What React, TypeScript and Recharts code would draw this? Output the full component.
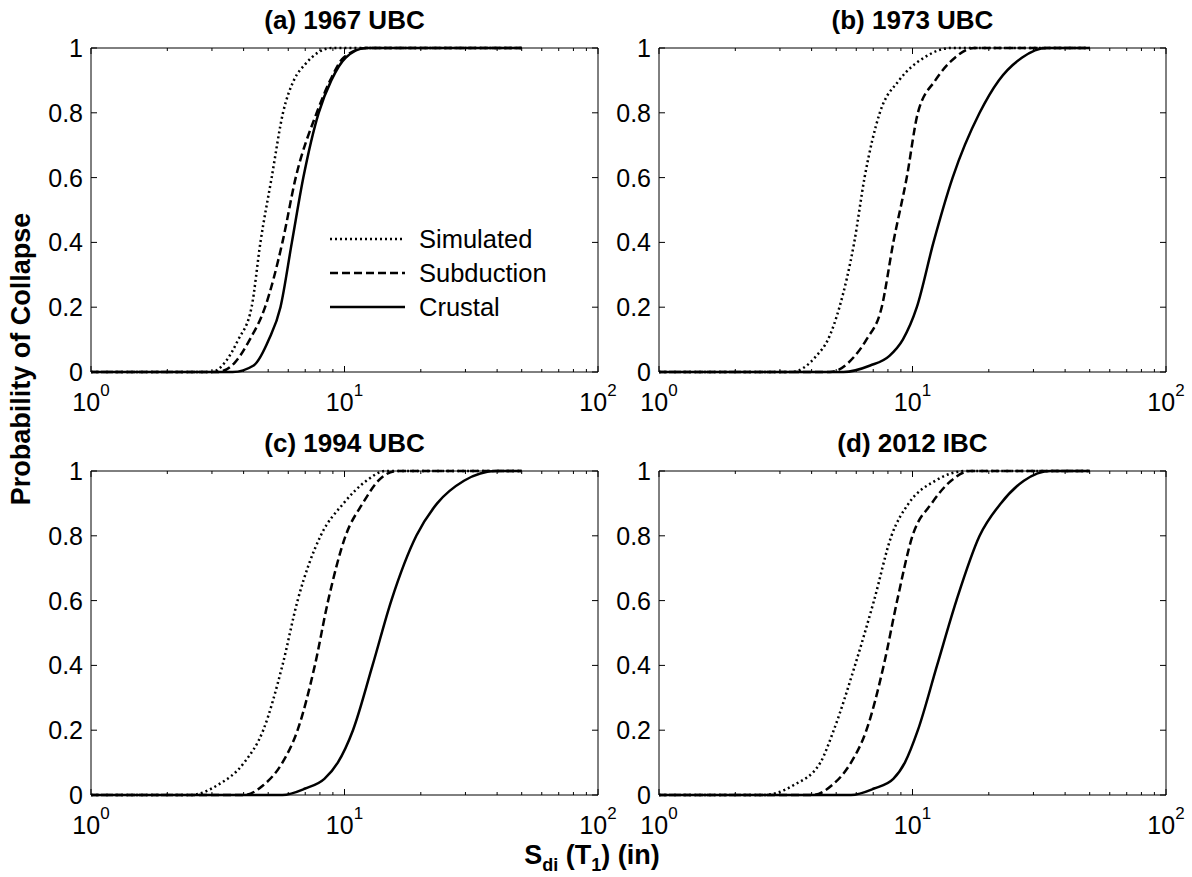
import React from "react";
import { LineChart, Line, XAxis, YAxis, ReferenceArea, Legend } from "recharts";

type Pt = { x: number; y: number };

const titles = ["(a) 1967 UBC", "(b) 1973 UBC", "(c) 1994 UBC", "(d) 2012 IBC"];
const seriesNames = ["Simulated", "Subduction", "Crustal"];
const yTicks = [0, 0.2, 0.4, 0.6, 0.8, 1];
const xTicks = [1, 2, 3, 4, 5, 6, 7, 8, 9, 10, 20, 30, 40, 50, 60, 70, 80, 90, 100];

// (a) 1967 UBC
const simulatedA: Pt[] = [
  { x: 1, y: 0 }, { x: 2.99, y: 0 }, { x: 3.38, y: 0.03 }, { x: 3.81, y: 0.1 },
  { x: 4.3, y: 0.2 }, { x: 4.66, y: 0.4 }, { x: 5.16, y: 0.6 }, { x: 5.72, y: 0.8 },
  { x: 6.31, y: 0.9 }, { x: 7.0, y: 0.95 }, { x: 8.9, y: 1 }, { x: 50, y: 1 },
];
const subductionA: Pt[] = [
  { x: 1, y: 0 }, { x: 3.15, y: 0 }, { x: 3.7, y: 0.03 }, { x: 4.23, y: 0.1 },
  { x: 4.86, y: 0.2 }, { x: 5.69, y: 0.4 }, { x: 6.42, y: 0.6 }, { x: 7.77, y: 0.8 },
  { x: 8.78, y: 0.9 }, { x: 9.91, y: 0.97 }, { x: 12.2, y: 1 }, { x: 50, y: 1 },
];
const crustalA: Pt[] = [
  { x: 1, y: 0 }, { x: 3.62, y: 0 }, { x: 4.38, y: 0.02 }, { x: 5.03, y: 0.1 },
  { x: 5.59, y: 0.2 }, { x: 6.2, y: 0.4 }, { x: 6.88, y: 0.6 }, { x: 7.91, y: 0.8 },
  { x: 8.87, y: 0.9 }, { x: 10.1, y: 0.97 }, { x: 12.2, y: 1 }, { x: 50, y: 1 },
];

// (b) 1973 UBC
const simulatedB: Pt[] = [
  { x: 1, y: 0 }, { x: 3.33, y: 0 }, { x: 4.18, y: 0.05 }, { x: 4.64, y: 0.1 },
  { x: 5.15, y: 0.2 }, { x: 5.89, y: 0.4 }, { x: 6.47, y: 0.6 }, { x: 7.43, y: 0.8 },
  { x: 8.85, y: 0.9 }, { x: 11.1, y: 0.97 }, { x: 14.2, y: 1 }, { x: 50, y: 1 },
];
const subductionB: Pt[] = [
  { x: 1, y: 0 }, { x: 4.72, y: 0 }, { x: 5.93, y: 0.05 }, { x: 6.58, y: 0.1 },
  { x: 7.56, y: 0.2 }, { x: 8.4, y: 0.4 }, { x: 9.49, y: 0.6 }, { x: 10.5, y: 0.8 },
  { x: 12.3, y: 0.9 }, { x: 14.7, y: 0.97 }, { x: 17.5, y: 1 }, { x: 50, y: 1 },
];
const crustalB: Pt[] = [
  { x: 1, y: 0 }, { x: 5.34, y: 0 }, { x: 6.81, y: 0.02 }, { x: 8.11, y: 0.05 },
  { x: 9.16, y: 0.1 }, { x: 10.4, y: 0.2 }, { x: 12.1, y: 0.4 }, { x: 14.4, y: 0.6 },
  { x: 18.4, y: 0.8 }, { x: 21.9, y: 0.9 }, { x: 27, y: 0.97 }, { x: 33.9, y: 1 }, { x: 50, y: 1 },
];

// (c) 1994 UBC
const simulatedC: Pt[] = [
  { x: 1, y: 0 }, { x: 2.47, y: 0 }, { x: 3.15, y: 0.03 }, { x: 4.02, y: 0.1 },
  { x: 4.78, y: 0.2 }, { x: 5.69, y: 0.4 }, { x: 6.53, y: 0.6 }, { x: 8.05, y: 0.8 },
  { x: 9.91, y: 0.9 }, { x: 12.2, y: 0.97 }, { x: 14.5, y: 1 }, { x: 50, y: 1 },
];
const subductionC: Pt[] = [
  { x: 1, y: 0 }, { x: 4.02, y: 0 }, { x: 4.78, y: 0.03 }, { x: 5.69, y: 0.1 },
  { x: 6.53, y: 0.2 }, { x: 7.64, y: 0.4 }, { x: 8.62, y: 0.6 }, { x: 10.1, y: 0.8 },
  { x: 11.8, y: 0.9 }, { x: 13.6, y: 0.97 }, { x: 16.1, y: 1 }, { x: 50, y: 1 },
];
const crustalC: Pt[] = [
  { x: 1, y: 0 }, { x: 5.69, y: 0 }, { x: 7.0, y: 0.02 }, { x: 8.33, y: 0.05 },
  { x: 9.41, y: 0.1 }, { x: 10.8, y: 0.2 }, { x: 12.9, y: 0.4 }, { x: 15.3, y: 0.6 },
  { x: 19.2, y: 0.8 }, { x: 23.2, y: 0.9 }, { x: 29.6, y: 0.97 }, { x: 39.8, y: 1 }, { x: 50, y: 1 },
];

// (d) 2012 IBC
const simulatedD: Pt[] = [
  { x: 1, y: 0 }, { x: 2.57, y: 0 }, { x: 3.39, y: 0.03 }, { x: 4.33, y: 0.1 },
  { x: 4.89, y: 0.2 }, { x: 5.93, y: 0.4 }, { x: 7.05, y: 0.6 }, { x: 8.26, y: 0.8 },
  { x: 9.66, y: 0.9 }, { x: 12.3, y: 0.97 }, { x: 16.3, y: 1 }, { x: 50, y: 1 },
];
const subductionD: Pt[] = [
  { x: 1, y: 0 }, { x: 4.04, y: 0 }, { x: 4.81, y: 0.03 }, { x: 5.72, y: 0.1 },
  { x: 6.58, y: 0.2 }, { x: 7.7, y: 0.4 }, { x: 8.7, y: 0.6 }, { x: 10, y: 0.8 },
  { x: 11.9, y: 0.9 }, { x: 14.2, y: 0.97 }, { x: 16.9, y: 1 }, { x: 50, y: 1 },
];
const crustalD: Pt[] = [
  { x: 1, y: 0 }, { x: 5.72, y: 0 }, { x: 7.05, y: 0.02 }, { x: 8.4, y: 0.05 },
  { x: 9.33, y: 0.1 }, { x: 10.5, y: 0.2 }, { x: 12.5, y: 0.4 }, { x: 14.9, y: 0.6 },
  { x: 18.4, y: 0.8 }, { x: 22.3, y: 0.9 }, { x: 27.5, y: 0.97 }, { x: 35.1, y: 1 }, { x: 50, y: 1 },
];

const FONT = "'Liberation Sans', Arial, Helvetica, sans-serif";
const PLOT_W = 507;
const PLOT_H = 324;
const PAD_L = 91;
const PAD_T = 48;

const dashes = ["2 3", "8 4", undefined];

const XTick = (props: any) => {
  const { x, y, payload } = props;
  const v = payload.value;
  const e = Math.round(Math.log10(v));
  const major = Math.abs(Math.log10(v) - e) < 1e-6;
  const len = major ? 6 : 3;
  return (
    <g>
      <line x1={x} x2={x} y1={y} y2={y - len} stroke="#000" />
      <line x1={x} x2={x} y1={y - PLOT_H} y2={y - PLOT_H + len} stroke="#000" />
      {major && (
        <text x={x} y={y + 39} textAnchor="middle" fontSize={25} fontFamily={FONT} fill="#000">
          10
          <tspan dy={-15} fontSize={17}>{e}</tspan>
        </text>
      )}
    </g>
  );
};

const YTick = (props: any) => {
  const { x, y, payload } = props;
  return (
    <g>
      <line x1={x} x2={x + 6} y1={y} y2={y} stroke="#000" />
      <line x1={x + PLOT_W} x2={x + PLOT_W - 6} y1={y} y2={y} stroke="#000" />
      <text x={x - 8} y={y} dy="0.36em" textAnchor="end" fontSize={25} fontFamily={FONT} fill="#000">
        {String(payload.value)}
      </text>
    </g>
  );
};

const LegendBox = () => (
  <svg width={230} height={110}>
    {seriesNames.map((n, i) => (
      <g key={n}>
        <line x1={0} x2={75} y1={17 + i * 34} y2={17 + i * 34} stroke="#000" strokeWidth={2.5} strokeDasharray={dashes[i]} />
        <text x={89} y={17 + i * 34} dy="0.36em" fontSize={25.5} fontFamily={FONT} fill="#000">{n}</text>
      </g>
    ))}
  </svg>
);

interface PanelProps {
  left: number;
  top: number;
  sim: Pt[];
  sub: Pt[];
  cru: Pt[];
  legend?: boolean;
}

const Panel = ({ left, top, sim, sub, cru, legend }: PanelProps) => {
  const series = [sim, sub, cru];
  return (
    <div style={{ position: "absolute", left: left - PAD_L, top: top - PAD_T }}>
      <LineChart
        width={PAD_L + PLOT_W + 20}
        height={PAD_T + PLOT_H + 60}
        margin={{ top: PAD_T, right: 20, left: 0, bottom: 20 }}
      >
        <XAxis
          type="number"
          dataKey="x"
          scale="log"
          domain={[1, 100]}
          ticks={xTicks}
          interval={0}
          allowDataOverflow
          height={40}
          tickSize={0}
          tickMargin={0}
          tickLine={false}
          axisLine={false}
          tick={<XTick />}
        />
        <YAxis
          type="number"
          domain={[0, 1]}
          ticks={yTicks}
          interval={0}
          width={PAD_L}
          tickSize={0}
          tickMargin={0}
          tickLine={false}
          axisLine={false}
          tick={<YTick />}
        />
        <ReferenceArea x1={1} x2={100} y1={0} y2={1} fill="none" stroke="#000" strokeWidth={1} />
        {series.map((d, i) => (
          <Line
            key={seriesNames[i]}
            name={seriesNames[i]}
            data={d}
            dataKey="y"
            type="monotone"
            stroke="#000"
            strokeWidth={2.5}
            strokeDasharray={dashes[i]}
            dot={false}
            isAnimationActive={false}
          />
        ))}
        {legend && (
          <Legend
            layout="vertical"
            align="center"
            verticalAlign="middle"
            wrapperStyle={{ left: 330, top: 222, width: 230 }}
            content={() => <LegendBox />}
          />
        )}
      </LineChart>
    </div>
  );
};

export default function App() {
  const rows = [48, 471];
  const cols = [91, 659];
  return (
    <div style={{ position: "fixed", left: 0, top: 0, width: 1192, height: 877, background: "#fff" }}>
      <Panel left={cols[0]} top={rows[0]} sim={simulatedA} sub={subductionA} cru={crustalA} legend />
      <Panel left={cols[1]} top={rows[0]} sim={simulatedB} sub={subductionB} cru={crustalB} />
      <Panel left={cols[0]} top={rows[1]} sim={simulatedC} sub={subductionC} cru={crustalC} />
      <Panel left={cols[1]} top={rows[1]} sim={simulatedD} sub={subductionD} cru={crustalD} />
      <svg
        width={1192}
        height={877}
        style={{ position: "absolute", left: 0, top: 0, pointerEvents: "none" }}
        fontFamily={FONT}
        fontWeight="bold"
      >
        {titles.map((t, i) => (
          <text
            key={t}
            x={cols[i % 2] + PLOT_W / 2}
            y={rows[Math.floor(i / 2)] - 19}
            textAnchor="middle"
            fontSize={26}
          >
            {t}
          </text>
        ))}
        <text transform="translate(30,359) rotate(-90)" textAnchor="middle" fontSize={27}>
          Probability of Collapse
        </text>
        <text x={592} y={864} textAnchor="middle" fontSize={27}>
          S<tspan dy={7} fontSize={18}>di</tspan>
          <tspan dy={-7}> (T</tspan>
          <tspan dy={7} fontSize={18}>1</tspan>
          <tspan dy={-7}>) (in)</tspan>
        </text>
      </svg>
    </div>
  );
}
